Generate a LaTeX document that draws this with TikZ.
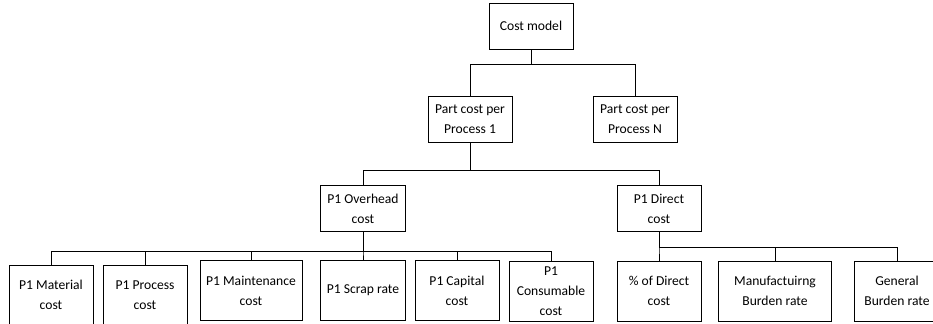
\documentclass[tikz,border=0pt]{standalone}
\usepackage{fontspec}
\setmainfont{Carlito}
\begin{document}
\begin{tikzpicture}[x=0.75pt,y=-0.75pt,
    block/.style ={draw, line width=0.6pt, align=center, inner sep=1pt, minimum width=63pt, minimum height=35pt, font=\fontsize{10.2}{15}\selectfont},
    leaf/.style ={block, minimum height=45pt}]
   \useasboundingbox (0,0) rectangle (933,324);
   \node[block, minimum height=34.5pt] (A) at (531,26) {Cost model};
   \node[block] (B) at (470,119.5) {Part cost per\\Process 1};
   \node[block] (C) at (635,119.5) {Part cost per\\Process N};
   \node[block, minimum width=64pt] (D) at (363,208.5) {P1 Overhead\\cost};
   \node[block] (E) at (659,208.5) {P1 Direct\\cost};
   \node[leaf] (F) at (51,295) {P1 Material\\cost};
   \node[leaf] (G) at (145,295) {P1 Process\\cost};
   \node[leaf, minimum width=76.5pt] (H) at (251,290.5) {P1 Maintenance\\cost};
   \node[leaf, minimum width=64pt] (I) at (363,290.5) {P1 Scrap rate};
   \node[leaf] (J) at (457,290.5) {P1 Capital\\cost};
   \node[leaf, inner sep=0pt] (K) at (551,291) {P1\\Consumable\\cost};
   \node[leaf] (L) at (659,291) {\% of Direct\\cost};
   \node[leaf, minimum width=85pt] (M) at (775,291) {Manufactuirng\\Burden rate};
   \node[leaf, minimum width=64.5pt] (N) at (897,291) {General\\Burden rate};

   \draw[line width=0.6pt] (A.south) -- ++(0,15) -| (B.north);
   \draw[line width=0.6pt] (A.south) -- ++(0,15) -| (C.north);
   \draw[line width=0.6pt] (B.south) -- ++(0,27) -| (D.north);
   \draw[line width=0.6pt] (B.south) -- ++(0,27) -| (E.north);
   \foreach \n in {F,G,H,I,J,K}
     \draw[line width=0.6pt] (D.south) -- ++(0,19) -| (\n.north);
   \foreach \n in {L,M,N}
     \draw[line width=0.6pt] (E.south) -- ++(0,15) -| (\n.north);
 \end{tikzpicture}
\end{document}
